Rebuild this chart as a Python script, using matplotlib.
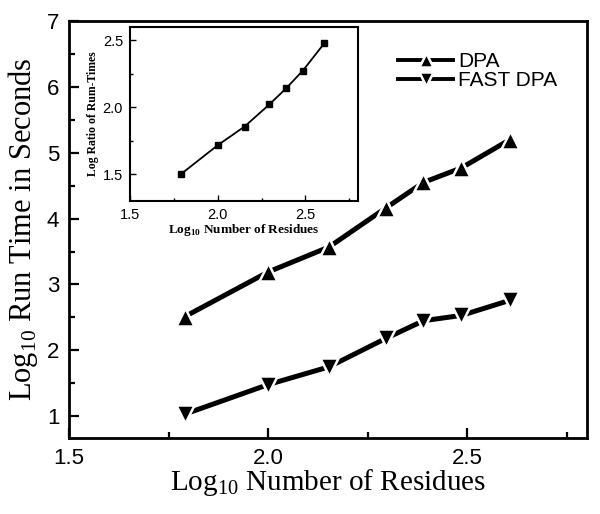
import numpy as np
import matplotlib
matplotlib.use("Agg")
import matplotlib.pyplot as plt
from matplotlib.ticker import MultipleLocator

plt.rcParams["mathtext.fontset"] = "custom"
plt.rcParams["mathtext.rm"] = "Liberation Serif"
plt.rcParams["mathtext.bf"] = "Liberation Serif:bold"

# log10 of number of residues
log_n = [1.79, 2.0, 2.153, 2.295, 2.39, 2.485, 2.607]
dpa = [2.51, 3.19, 3.57, 4.16, 4.55, 4.77, 5.20]
fast_dpa = [1.03, 1.48, 1.75, 2.18, 2.45, 2.53, 2.76]
log_ratio = [1.50, 1.716, 1.855, 2.021, 2.140, 2.272, 2.475]

sans = "Liberation Sans"
serif = "Liberation Serif"

fig = plt.figure(figsize=(6.0, 5.14), dpi=100)
ax = fig.add_axes([0.115, 0.148, 0.863, 0.811])

style = dict(color="black", lw=3.6, markersize=13, markeredgecolor="white",
             markeredgewidth=1.8, markerfacecolor="black")
ax.plot(log_n, dpa, marker="^", label="DPA", **style)
ax.plot(log_n, fast_dpa, marker="v", label="FAST DPA", **style)

ax.set_xlim(1.5, 2.8)
ax.set_ylim(0.67, 7)
ax.xaxis.set_minor_locator(MultipleLocator(0.25))
ax.yaxis.set_minor_locator(MultipleLocator(0.5))
ax.set_xticks([1.5, 2.0, 2.5])
ax.set_xticklabels(["1.5", "2.0", "2.5"])
ax.set_yticks([1, 2, 3, 4, 5, 6, 7])
ax.tick_params(which="both", direction="in", width=1.6, labelsize=16, pad=7)
ax.tick_params(which="major", length=7)
ax.tick_params(which="minor", length=4)
for lab in ax.get_xticklabels() + ax.get_yticklabels():
    lab.set_family(sans)
for s in ax.spines.values():
    s.set_linewidth(2)

ax.set_xlabel(r"Log$_{\mathrm{10}}$ Number of Residues", family=serif, fontsize=21, labelpad=-1)
ax.set_ylabel(r"Log$_{\mathrm{10}}$ Run Time in Seconds", family=serif, fontsize=22, labelpad=5)

leg = ax.legend(loc="upper left", bbox_to_anchor=(0.60, 0.97), frameon=False,
                prop={"family": sans, "size": 15}, handlelength=2.6,
                handletextpad=0.25, labelspacing=0.0)
for h in leg.legend_handles:
    h.set_markersize(9.5)
    h.set_markeredgewidth(1.8)
    h.set_linewidth(2.8)

# inset
ins = fig.add_axes([0.2167, 0.609, 0.38, 0.339])
ins.plot(log_n, log_ratio, color="black", lw=1.3, marker="s", markersize=4)
ins.set_xlim(1.5, 2.8)
ins.set_ylim(1.3, 2.6)
ins.set_xticks([1.5, 2.0, 2.5])
ins.set_xticklabels(["1.5", "2.0", "2.5"])
ins.set_yticks([1.5, 2.0, 2.5])
ins.set_yticklabels(["1.5", "2.0", "2.5"])
ins.xaxis.set_minor_locator(MultipleLocator(0.25))
ins.yaxis.set_minor_locator(MultipleLocator(0.25))
ins.tick_params(which="both", direction="in", width=1.0, labelsize=10.5, pad=5)
ins.tick_params(which="major", length=4)
ins.tick_params(which="minor", length=2.5)
for lab in ins.get_xticklabels() + ins.get_yticklabels():
    lab.set_family(sans)
for s in ins.spines.values():
    s.set_linewidth(1.5)
ins.set_xlabel(r"Log$_{\mathbf{10}}$ Number of Residues", family=serif, fontweight="bold",
               fontsize=9.5, labelpad=0)
ins.set_ylabel("Log Ratio of Rum-Times", family=serif, fontweight="bold", fontsize=8.5, labelpad=3)

fig.savefig("out.png", dpi=100)
